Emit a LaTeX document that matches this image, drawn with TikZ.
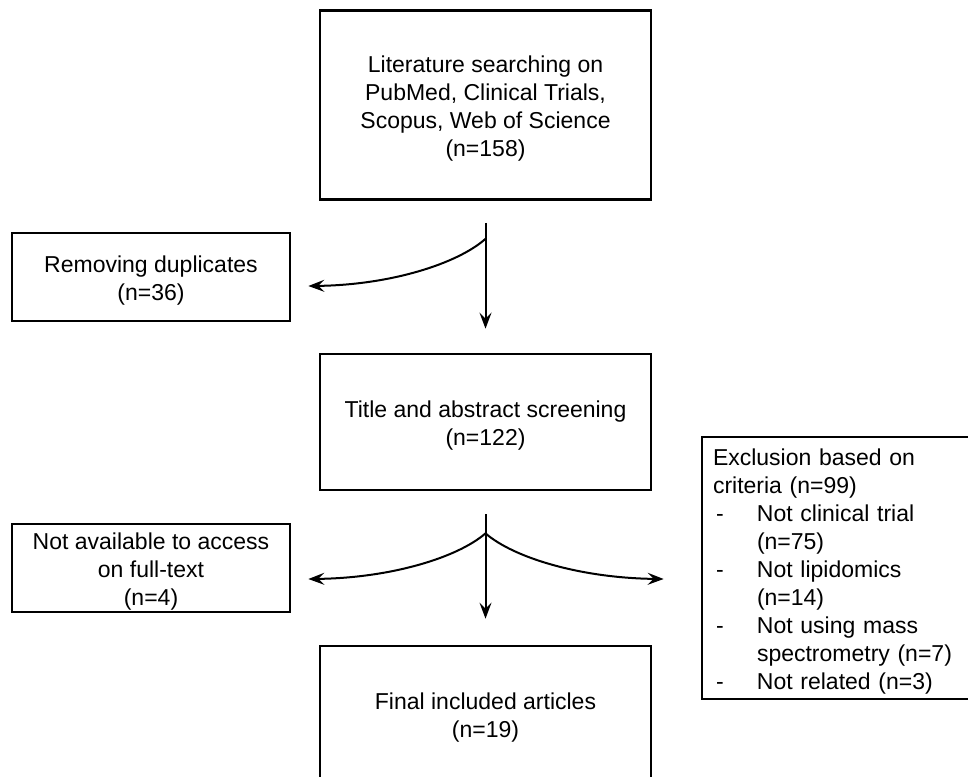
\documentclass[tikz,border=0pt]{standalone}
\usepackage{fontspec}
\setmainfont{Liberation Sans}
\usetikzlibrary{arrows.meta}
\newcommand\mytopstrut{\rule{0pt}{24pt}}
\begin{document}
\begin{tikzpicture}[x=1pt,y=-1pt,
  box/.style={draw, line width=2.7pt, align=center, inner sep=0pt,
    font=\fontsize{23}{28}\selectfont},
  flow/.style={line width=2pt, -{Stealth[length=16pt,width=12pt,inset=6pt]}},
]
\useasboundingbox (0,0) rectangle (968,776);
\begin{scope}
\clip (0,0) rectangle (968,776);
% boxes
\node[box, minimum width=331pt, minimum height=189pt] (lit) at (485.5,105)
  {\mytopstrut Literature searching on\\PubMed, Clinical Trials,\\Scopus, Web of Science\\(n=158)};
\node[box, minimum width=278pt, minimum height=88pt] (rem) at (151,277)
  {\mytopstrut Removing duplicates\\(n=36)};
\node[box, minimum width=331pt, minimum height=136pt] (title) at (485.5,422)
  {\mytopstrut Title and abstract screening\\(n=122)};
\node[box, minimum width=278pt, minimum height=88pt] (nav) at (151,568)
  {\mytopstrut Not available to access\\on full-text\\(n=4)};
\node[box, minimum height=262pt, inner xsep=11pt, text width=261pt, align=left] (exc) at (843.5,568)
  {\mytopstrut Exclusion based on\\criteria (n=99)\\
   \hspace*{3pt}\makebox[41pt][l]{-}Not clinical trial\\
   \hspace*{44pt}(n=75)\\
   \hspace*{3pt}\makebox[41pt][l]{-}Not lipidomics\\
   \hspace*{44pt}(n=14)\\
   \hspace*{3pt}\makebox[41pt][l]{-}Not using mass\\
   \hspace*{44pt}spectrometry (n=7)\\
   \hspace*{3pt}\makebox[41pt][l]{-}Not related (n=3)};
\node[box, minimum width=331pt, minimum height=136pt] (fin) at (485.5,714)
  {\mytopstrut Final included articles\\(n=19)};
% junction coordinates
\coordinate (j1) at ([yshift=-22pt]lit.south);
\coordinate (s1) at ([yshift=-38pt]lit.south);
\coordinate (remtip) at ([xshift=17pt,yshift=-9pt]rem.east);
\coordinate (j2) at ([yshift=-23pt]title.south);
\coordinate (s2) at ([yshift=-42pt]title.south);
\coordinate (navtip) at ([xshift=17pt,yshift=-11pt]nav.east);
\coordinate (exctip) at ([xshift=-37pt,yshift=-11pt]exc.west);
% connectors
\draw[flow, shorten >=24pt] (j1) -- (title.north);
\draw[flow] (s1) .. controls (457,264) and (390,285) .. (remtip);
\draw[flow, shorten >=26pt] (j2) -- (fin.north);
\draw[flow] (s2) .. controls (457,558) and (390,578) .. (navtip);
\draw[flow] (s2) .. controls (514,558) and (581,578) .. (exctip);
\end{scope}
\end{tikzpicture}
\end{document}
